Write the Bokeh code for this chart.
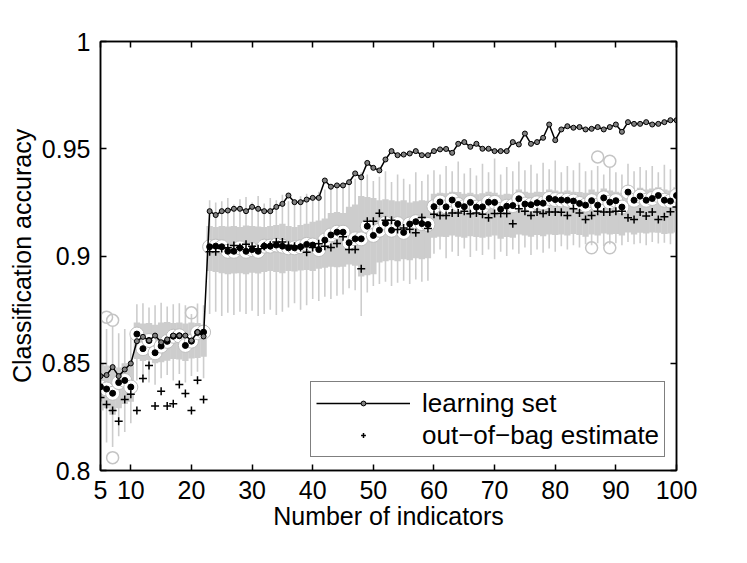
from bokeh.plotting import figure
from bokeh.models import (Range1d, FixedTicker, LinearAxis, Legend, LegendItem,
                          CustomJSTickFormatter, ColumnDataSource)
from bokeh.embed import file_html
from bokeh.resources import INLINE

# ---------------- data ----------------
n_ind = list(range(5, 101))

learn = [
    0.8440, 0.8445, 0.8482, 0.8440, 0.8471, 0.8499,
    0.8603, 0.8623, 0.8606, 0.8629, 0.8598, 0.8611, 0.8629, 0.8629, 0.8629, 0.8606, 0.8645, 0.8625,
    0.9209, 0.9191, 0.9209, 0.9212, 0.9220, 0.9220, 0.9209, 0.9229, 0.9220, 0.9209,
    0.9209, 0.9229, 0.9243, 0.9282, 0.9251, 0.9251, 0.9263, 0.9271, 0.9271, 0.9352,
    0.9323, 0.9329, 0.9329, 0.9344, 0.9385, 0.9367, 0.9434, 0.9411, 0.9399, 0.9450,
    0.9489, 0.9470, 0.9473, 0.9478, 0.9489, 0.9470, 0.9470, 0.9489, 0.9497, 0.9499,
    0.9481, 0.9523, 0.9531, 0.9509, 0.9523, 0.9500, 0.9500, 0.9489, 0.9489, 0.9489,
    0.9531, 0.9520, 0.9571, 0.9523, 0.9531, 0.9551, 0.9613, 0.9540, 0.9590, 0.9605,
    0.9598, 0.9601, 0.9590, 0.9593, 0.9601, 0.9590, 0.9601, 0.9613, 0.9579, 0.9624,
    0.9616, 0.9616, 0.9624, 0.9613, 0.9616, 0.9624, 0.9633, 0.9633]

oob = [
    0.8340, 0.8308, 0.8280, 0.8230, 0.8331, 0.8355,
    0.8280, 0.8429, 0.8490, 0.8301, 0.8370, 0.8301, 0.8311, 0.8401, 0.8359, 0.8280, 0.8421, 0.8331,
    0.9020, 0.9020, 0.9035, 0.9038, 0.9049, 0.9040, 0.9055, 0.9046, 0.9034, 0.9045,
    0.9050, 0.9065, 0.9065, 0.9050, 0.9046, 0.9040, 0.9018, 0.9040, 0.9057, 0.9045,
    0.9040, 0.9058, 0.9090, 0.9030, 0.9030, 0.8940, 0.9162, 0.9162, 0.9199, 0.9167,
    0.9167, 0.9124, 0.9130, 0.9125, 0.9108, 0.9180, 0.9128, 0.9195, 0.9189, 0.9189,
    0.9200, 0.9200, 0.9209, 0.9197, 0.9200, 0.9195, 0.9178, 0.9198, 0.9198, 0.9198,
    0.9150, 0.9220, 0.9209, 0.9189, 0.9205, 0.9198, 0.9205, 0.9205, 0.9204, 0.9189,
    0.9220, 0.9201, 0.9170, 0.9189, 0.9209, 0.9205, 0.9205, 0.9209, 0.9209, 0.9178,
    0.9170, 0.9205, 0.9186, 0.9205, 0.9170, 0.9183, 0.9206, 0.9229]

med = [
    0.8390, 0.8380, 0.8360, 0.8410, 0.8420, 0.8389,
    0.8636, 0.8568, 0.8606, 0.8549, 0.8580, 0.8602, 0.8626, 0.8628, 0.8583, 0.8603, 0.8643, 0.8645,
    0.9043, 0.9046, 0.9043, 0.9022, 0.9022, 0.9038, 0.9022, 0.9030, 0.9022, 0.9046,
    0.9046, 0.9051, 0.9046, 0.9038, 0.9038, 0.9043, 0.9054, 0.9051, 0.9030, 0.9074,
    0.9098, 0.9111, 0.9111, 0.9062, 0.9080, 0.9080, 0.9139, 0.9096, 0.9120, 0.9153,
    0.9120, 0.9151, 0.9110, 0.9149, 0.9160, 0.9151, 0.9147, 0.9230, 0.9252, 0.9229,
    0.9261, 0.9240, 0.9230, 0.9250, 0.9228, 0.9229, 0.9251, 0.9250, 0.9218, 0.9232,
    0.9235, 0.9267, 0.9242, 0.9239, 0.9248, 0.9246, 0.9268, 0.9263, 0.9261, 0.9260,
    0.9256, 0.9245, 0.9237, 0.9258, 0.9237, 0.9271, 0.9251, 0.9258, 0.9228, 0.9298,
    0.9260, 0.9279, 0.9260, 0.9268, 0.9282, 0.9260, 0.9256, 0.9282]

q3 = [
    0.8500, 0.8490, 0.8470, 0.8480, 0.8500, 0.8490,
    0.8690, 0.8685, 0.8688, 0.8680, 0.8690, 0.8692, 0.8688, 0.8690, 0.8685, 0.8690, 0.8688, 0.8680,
    0.9140, 0.9135, 0.9140, 0.9138, 0.9140, 0.9135, 0.9142, 0.9140, 0.9138, 0.9135,
    0.9140, 0.9145, 0.9150, 0.9140, 0.9135, 0.9145, 0.9150, 0.9160, 0.9165, 0.9175,
    0.9200, 0.9205, 0.9200, 0.9230, 0.9240, 0.9280, 0.9275, 0.9270, 0.9260, 0.9265,
    0.9260, 0.9255, 0.9260, 0.9250, 0.9255, 0.9260, 0.9258, 0.9290, 0.9295, 0.9292,
    0.9300, 0.9298, 0.9290, 0.9295, 0.9288, 0.9292, 0.9300, 0.9295, 0.9285, 0.9290,
    0.9288, 0.9310, 0.9300, 0.9295, 0.9300, 0.9298, 0.9310, 0.9305, 0.9300, 0.9305,
    0.9300, 0.9298, 0.9295, 0.9310, 0.9300, 0.9315, 0.9305, 0.9300, 0.9295, 0.9320,
    0.9305, 0.9318, 0.9310, 0.9315, 0.9320, 0.9310, 0.9305, 0.9320]

q1 = [
    0.8280, 0.8290, 0.8260, 0.8290, 0.8310, 0.8320,
    0.8520, 0.8510, 0.8515, 0.8500, 0.8505, 0.8512, 0.8520, 0.8518, 0.8510, 0.8522, 0.8525, 0.8530,
    0.8930, 0.8925, 0.8920, 0.8915, 0.8918, 0.8920, 0.8915, 0.8922, 0.8918, 0.8925,
    0.8930, 0.8925, 0.8920, 0.8930, 0.8928, 0.8932, 0.8935, 0.8930, 0.8940, 0.8945,
    0.8950, 0.8948, 0.8950, 0.8960, 0.8955, 0.8905, 0.8910, 0.8915, 0.8970, 0.8975,
    0.8980, 0.8975, 0.8985, 0.8980, 0.8990, 0.8985, 0.8990, 0.9085, 0.9090, 0.9088,
    0.9095, 0.9090, 0.9085, 0.9092, 0.9088, 0.9085, 0.9090, 0.9095, 0.9080, 0.9088,
    0.9085, 0.9100, 0.9095, 0.9090, 0.9098, 0.9092, 0.9100, 0.9098, 0.9100, 0.9095,
    0.9102, 0.9098, 0.9090, 0.9100, 0.9095, 0.9105, 0.9100, 0.9102, 0.9095, 0.9110,
    0.9100, 0.9108, 0.9105, 0.9110, 0.9108, 0.9102, 0.9105, 0.9110]

whisk_hi = [
    0.8620, 0.8660, 0.8670, 0.8640, 0.8660, 0.8630,
    0.8775, 0.8780, 0.8760, 0.8770, 0.8782, 0.8765, 0.8775, 0.8780, 0.8770, 0.8730, 0.8778, 0.8770,
    0.9260, 0.9250, 0.9255, 0.9270, 0.9240, 0.9265, 0.9275, 0.9250, 0.9280, 0.9245,
    0.9270, 0.9260, 0.9285, 0.9255, 0.9240, 0.9278, 0.9290, 0.9270, 0.9300, 0.9310,
    0.9330, 0.9320, 0.9325, 0.9340, 0.9360, 0.9390, 0.9380, 0.9350, 0.9370, 0.9395,
    0.9345, 0.9380, 0.9360, 0.9335, 0.9390, 0.9350, 0.9380, 0.9400, 0.9380, 0.9420,
    0.9395, 0.9440, 0.9385, 0.9410, 0.9375, 0.9430, 0.9390, 0.9455, 0.9380, 0.9415,
    0.9395, 0.9440, 0.9400, 0.9425, 0.9385, 0.9435, 0.9405, 0.9445, 0.9390, 0.9420,
    0.9400, 0.9435, 0.9395, 0.9400, 0.9420, 0.9380, 0.9410, 0.9390, 0.9380, 0.9430,
    0.9395, 0.9415, 0.9400, 0.9420, 0.9390, 0.9425, 0.9405, 0.9415]

whisk_lo = [
    0.8120, 0.8130, 0.8110, 0.8160, 0.8180, 0.8220,
    0.8420, 0.8440, 0.8410, 0.8400, 0.8430, 0.8445, 0.8420, 0.8450, 0.8410, 0.8440, 0.8460, 0.8430,
    0.8730, 0.8740, 0.8720, 0.8735, 0.8725, 0.8740, 0.8730, 0.8745, 0.8720, 0.8730,
    0.8750, 0.8725, 0.8740, 0.8760, 0.8780, 0.8750, 0.8770, 0.8800, 0.8790, 0.8810,
    0.8800, 0.8815, 0.8820, 0.8850, 0.8840, 0.8720, 0.8830, 0.8860, 0.8870, 0.8880,
    0.8860, 0.8875, 0.8885, 0.8870, 0.8890, 0.8880, 0.8885, 0.9010, 0.9030, 0.8990,
    0.9020, 0.9000, 0.9035, 0.8995, 0.9025, 0.9005, 0.9030, 0.8985, 0.9020, 0.9000,
    0.9030, 0.9010, 0.9040, 0.9005, 0.9030, 0.9015, 0.9035, 0.9020, 0.9045, 0.9030,
    0.9050, 0.9040, 0.9055, 0.9050, 0.9060, 0.9045, 0.9055, 0.9060, 0.9050, 0.9065,
    0.9055, 0.9060, 0.9050, 0.9065, 0.9058, 0.9062, 0.9055, 0.9060]

outlier_x = [6, 7, 7, 20, 86, 87, 89, 89]
outlier_y = [0.8715, 0.8700, 0.8060, 0.8735, 0.9038, 0.9462, 0.9442, 0.9038]

x_ticks = [5, 10, 20, 30, 40, 50, 60, 70, 80, 90, 100]
y_ticks = [0.8, 0.85, 0.9, 0.95, 1.0]

# ---------------- figure ----------------
FONT = "Liberation Sans"
GRAY = "#cdcdcd"

src = ColumnDataSource(dict(x=n_ind, learn=learn, oob=oob, med=med, q1=q1, q3=q3,
                            lo=whisk_lo, hi=whisk_hi))
out_src = ColumnDataSource(dict(x=outlier_x, y=outlier_y))

p = figure(frame_width=576, frame_height=429,
           x_range=Range1d(5, 100), y_range=Range1d(0.8, 1.0),
           output_backend="svg", toolbar_location=None,
           min_border_left=100, min_border_right=30, min_border_top=41, min_border_bottom=77,
           background_fill_color="white", border_fill_color="white")
p.xgrid.visible = False
p.ygrid.visible = False
p.outline_line_color = "black"
p.outline_line_width = 1.5

# whiskers and boxes (compact boxplot)
p.segment(x0="x", y0="lo", x1="x", y1="hi", source=src, line_color=GRAY, line_width=1.6)
p.vbar(x="x", bottom="q1", top="q3", width=1.05, source=src, fill_color=GRAY,
       line_color=None)
# outliers
p.scatter(x="x", y="y", source=out_src, marker="circle", size=12, fill_color=None,
          line_color="#c4c4c4", line_width=1.5)
# medians: white circle with black dot
p.scatter(x="x", y="med", source=src, marker="circle", size=14, fill_color="white",
          line_color="#bdbdbd", line_width=1)
p.scatter(x="x", y="med", source=src, marker="circle", size=6, fill_color="black",
          line_color="black")
# out-of-bag estimate
r_oob = p.scatter(x="x", y="oob", source=src, marker="cross", size=8, line_color="black",
                  line_width=1.5)
# learning set
r_line = p.line(x="x", y="learn", source=src, line_color="black", line_width=1.5)
r_pts = p.scatter(x="x", y="learn", source=src, marker="circle", size=5,
                  fill_color="#808080", line_color="black", line_width=1)

# ---------------- axes ----------------
def style_axis(ax, ticks, labels=True):
    ax.ticker = FixedTicker(ticks=ticks)
    ax.major_tick_in = 6
    ax.major_tick_out = 0
    ax.minor_tick_in = 0
    ax.minor_tick_out = 0
    ax.axis_line_color = "black"
    ax.axis_line_width = 1.5
    ax.major_tick_line_color = "black"
    ax.major_tick_line_width = 1.5
    ax.major_label_text_font = FONT
    ax.major_label_text_font_size = "25px"
    ax.major_label_text_color = "black"
    ax.major_label_standoff = 10
    if not labels:
        ax.major_label_text_font_size = "1px"
        ax.major_label_text_color = None
        ax.major_label_standoff = 0

xb = p.below[0]
yl = p.left[0]
style_axis(xb, x_ticks)
style_axis(yl, y_ticks)
yl.formatter = CustomJSTickFormatter(code="return String(Math.round(tick*100)/100);")

xa = LinearAxis()
style_axis(xa, x_ticks, labels=False)
p.add_layout(xa, "above")
yr = LinearAxis()
style_axis(yr, y_ticks, labels=False)
p.add_layout(yr, "right")

xb.axis_label = "Number of indicators"
yl.axis_label = "Classification accuracy"
for ax in (xb, yl):
    ax.axis_label_text_font = FONT
    ax.axis_label_text_font_size = "25px"
    ax.axis_label_text_font_style = "normal"
    ax.axis_label_text_color = "black"
xb.axis_label_standoff = 0
yl.axis_label_standoff = 3

# ---------------- legend ----------------
legend = Legend(items=[LegendItem(label="learning set", renderers=[r_line, r_pts]),
                       LegendItem(label="out\u2212of\u2212bag estimate", renderers=[r_oob])],
                location=(210, 13))
legend.border_line_color = "black"
legend.border_line_width = 1
legend.background_fill_color = "white"
legend.background_fill_alpha = 1
legend.padding = 5
legend.spacing = 0
legend.margin = 0
legend.glyph_width = 94
legend.glyph_height = 12
legend.label_height = 32
legend.label_standoff = 12
legend.label_text_font = FONT
legend.label_text_font_size = "26px"
legend.label_text_color = "black"
p.add_layout(legend)

open("out.html", "w").write(file_html(p, INLINE))
